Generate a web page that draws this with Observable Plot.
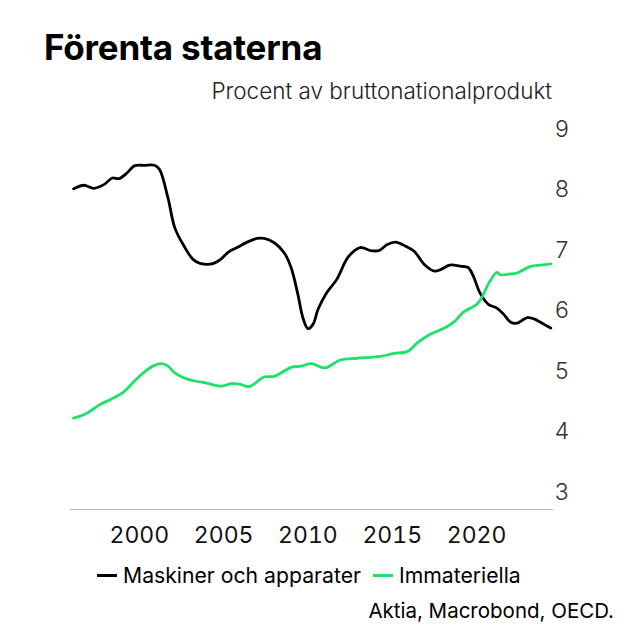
<!DOCTYPE html>
<html>
<head>
<meta charset="utf-8">
<script src="https://cdn.jsdelivr.net/npm/d3@7"></script>
<script src="https://cdn.jsdelivr.net/npm/@observablehq/plot@0.6"></script>
<style>
  html, body { margin: 0; padding: 0; background: #fff; }
  body { width: 637px; height: 643px; position: relative; overflow: hidden; font-family: Inter, "Noto Sans", sans-serif; color: #000; }
  .abs { position: absolute; white-space: nowrap; line-height: 1; }
  #title { left: 44px; top: 30px; font-size: 35px; font-weight: 700; letter-spacing: -0.2px; }
  #subtitle { right: 85px; top: 80px; font-size: 22.5px; font-weight: 300; color: #222; }
  #chart { position: absolute; left: 0; top: 110px; }
  #legend { left: 97px; top: 565px; font-size: 21.2px; font-weight: 400; display: flex; align-items: center; }
  #legend .sw { display: inline-block; width: 20px; height: 3px; margin-right: 6px; }
  #legend .item { display: flex; align-items: center; margin-right: 12px; }
  #caption { right: 23px; top: 601px; font-size: 20.5px; font-weight: 400; }
</style>
</head>
<body>
<div id="title" class="abs">Förenta staterna</div>
<div id="subtitle" class="abs">Procent av bruttonationalprodukt</div>
<div id="chart"></div>
<div id="legend" class="abs"></div>
<div id="caption" class="abs">Aktia, Macrobond, OECD.</div>
<script>
// Series names and colours
const seriesNames = ["Maskiner och apparater", "Immateriella"];
const seriesColors = ["#000000", "#1fe06a"];

// Maskiner och apparater (% of GDP)
const machYears = [1996.1, 1996.7, 1997.3, 1997.9, 1998.4, 1998.8, 1999.3, 1999.7, 2000.3, 2000.9,
  2001.2, 2001.7, 2002.1, 2002.6, 2003.2, 2003.6, 2004.3, 2004.8, 2005.3, 2005.8,
  2006.4, 2007.0, 2007.4, 2008.0, 2008.6, 2009.0, 2009.4, 2009.7, 2010.0, 2010.3,
  2010.6, 2011.1, 2011.7, 2012.4, 2013.1, 2013.7, 2014.2, 2014.7, 2015.2, 2015.8,
  2016.3, 2016.9, 2017.5, 2017.9, 2018.4, 2019.1, 2019.5, 2019.8, 2020.2, 2020.7,
  2021.2, 2021.6, 2022.0, 2022.4, 2023.0, 2023.4, 2024.0, 2024.4];
const machValues = [8.02, 8.08, 8.03, 8.09, 8.20, 8.19, 8.29, 8.40, 8.41, 8.41,
  8.34, 7.87, 7.38, 7.10, 6.85, 6.79, 6.78, 6.85, 6.98, 7.05,
  7.14, 7.20, 7.20, 7.13, 6.96, 6.72, 6.28, 5.89, 5.71, 5.78,
  6.03, 6.30, 6.52, 6.90, 7.05, 7.00, 7.00, 7.10, 7.14, 7.07,
  6.99, 6.77, 6.66, 6.69, 6.76, 6.74, 6.72, 6.58, 6.30, 6.11,
  6.05, 5.95, 5.82, 5.80, 5.89, 5.87, 5.78, 5.72];

// Immateriella (% of GDP)
const intYears = [1996.1, 1996.8, 1997.7, 1998.3, 1999.1, 1999.6, 2000.2, 2000.8, 2001.3, 2001.7,
  2002.1, 2002.8, 2003.4, 2004.0, 2004.8, 2005.5, 2006.0, 2006.5, 2007.4, 2008.0,
  2009.0, 2009.6, 2010.2, 2011.0, 2011.9, 2012.9, 2014.3, 2015.1, 2015.9, 2016.5,
  2017.2, 2018.1, 2018.7, 2019.2, 2020.0, 2020.3, 2020.7, 2021.2, 2021.4, 2021.9,
  2022.4, 2023.2, 2023.8, 2024.4];
const intValues = [4.23, 4.30, 4.46, 4.54, 4.67, 4.81, 4.97, 5.09, 5.13, 5.09,
  4.98, 4.88, 4.84, 4.81, 4.76, 4.80, 4.79, 4.75, 4.91, 4.92,
  5.07, 5.09, 5.13, 5.06, 5.19, 5.22, 5.25, 5.30, 5.33, 5.48,
  5.61, 5.72, 5.83, 5.98, 6.11, 6.22, 6.45, 6.64, 6.60, 6.61,
  6.63, 6.74, 6.76, 6.78];

// Tick labels
const xTicks = [2000, 2005, 2010, 2015, 2020];
const yTicks = [3, 4, 5, 6, 7, 8, 9];

const rows = [
  ...machYears.map((t, i) => ({year: t, value: machValues[i], series: seriesNames[0]})),
  ...intYears.map((t, i) => ({year: t, value: intValues[i], series: seriesNames[1]}))
];

const chart = Plot.plot({
  width: 637,
  height: 440,
  marginLeft: 70,
  marginRight: 84,
  marginTop: 7,
  marginBottom: 41,
  style: {fontFamily: "Inter, 'Noto Sans', sans-serif", background: "transparent", overflow: "visible"},
  x: {domain: [1995.92, 2024.56], label: null},
  y: {domain: [2.72, 9.2], label: null},
  color: {domain: seriesNames, range: seriesColors},
  marks: [
    Plot.ruleY([2.72], {stroke: "#b8b8b8", strokeWidth: 1.2}),
    Plot.axisX({ticks: xTicks, tickFormat: d => String(d), tickSize: 0, tickPadding: 17, fontSize: 23, fill: "#111", label: null}),
    Plot.axisY({anchor: "right", ticks: yTicks, tickFormat: d => String(d), tickSize: 0, tickPadding: 1, fontSize: 23, fontWeight: 300, fill: "#333", label: null}),
    Plot.line(rows, {x: "year", y: "value", z: "series", stroke: "series", strokeWidth: 2.8, curve: "catmull-rom"})
  ]
});
document.getElementById("chart").appendChild(chart);

const legend = document.getElementById("legend");
seriesNames.forEach((name, i) => {
  const item = document.createElement("span");
  item.className = "item";
  const sw = document.createElement("span");
  sw.className = "sw";
  sw.style.background = seriesColors[i];
  item.appendChild(sw);
  item.appendChild(document.createTextNode(name));
  legend.appendChild(item);
});
</script>
</body>
</html>
